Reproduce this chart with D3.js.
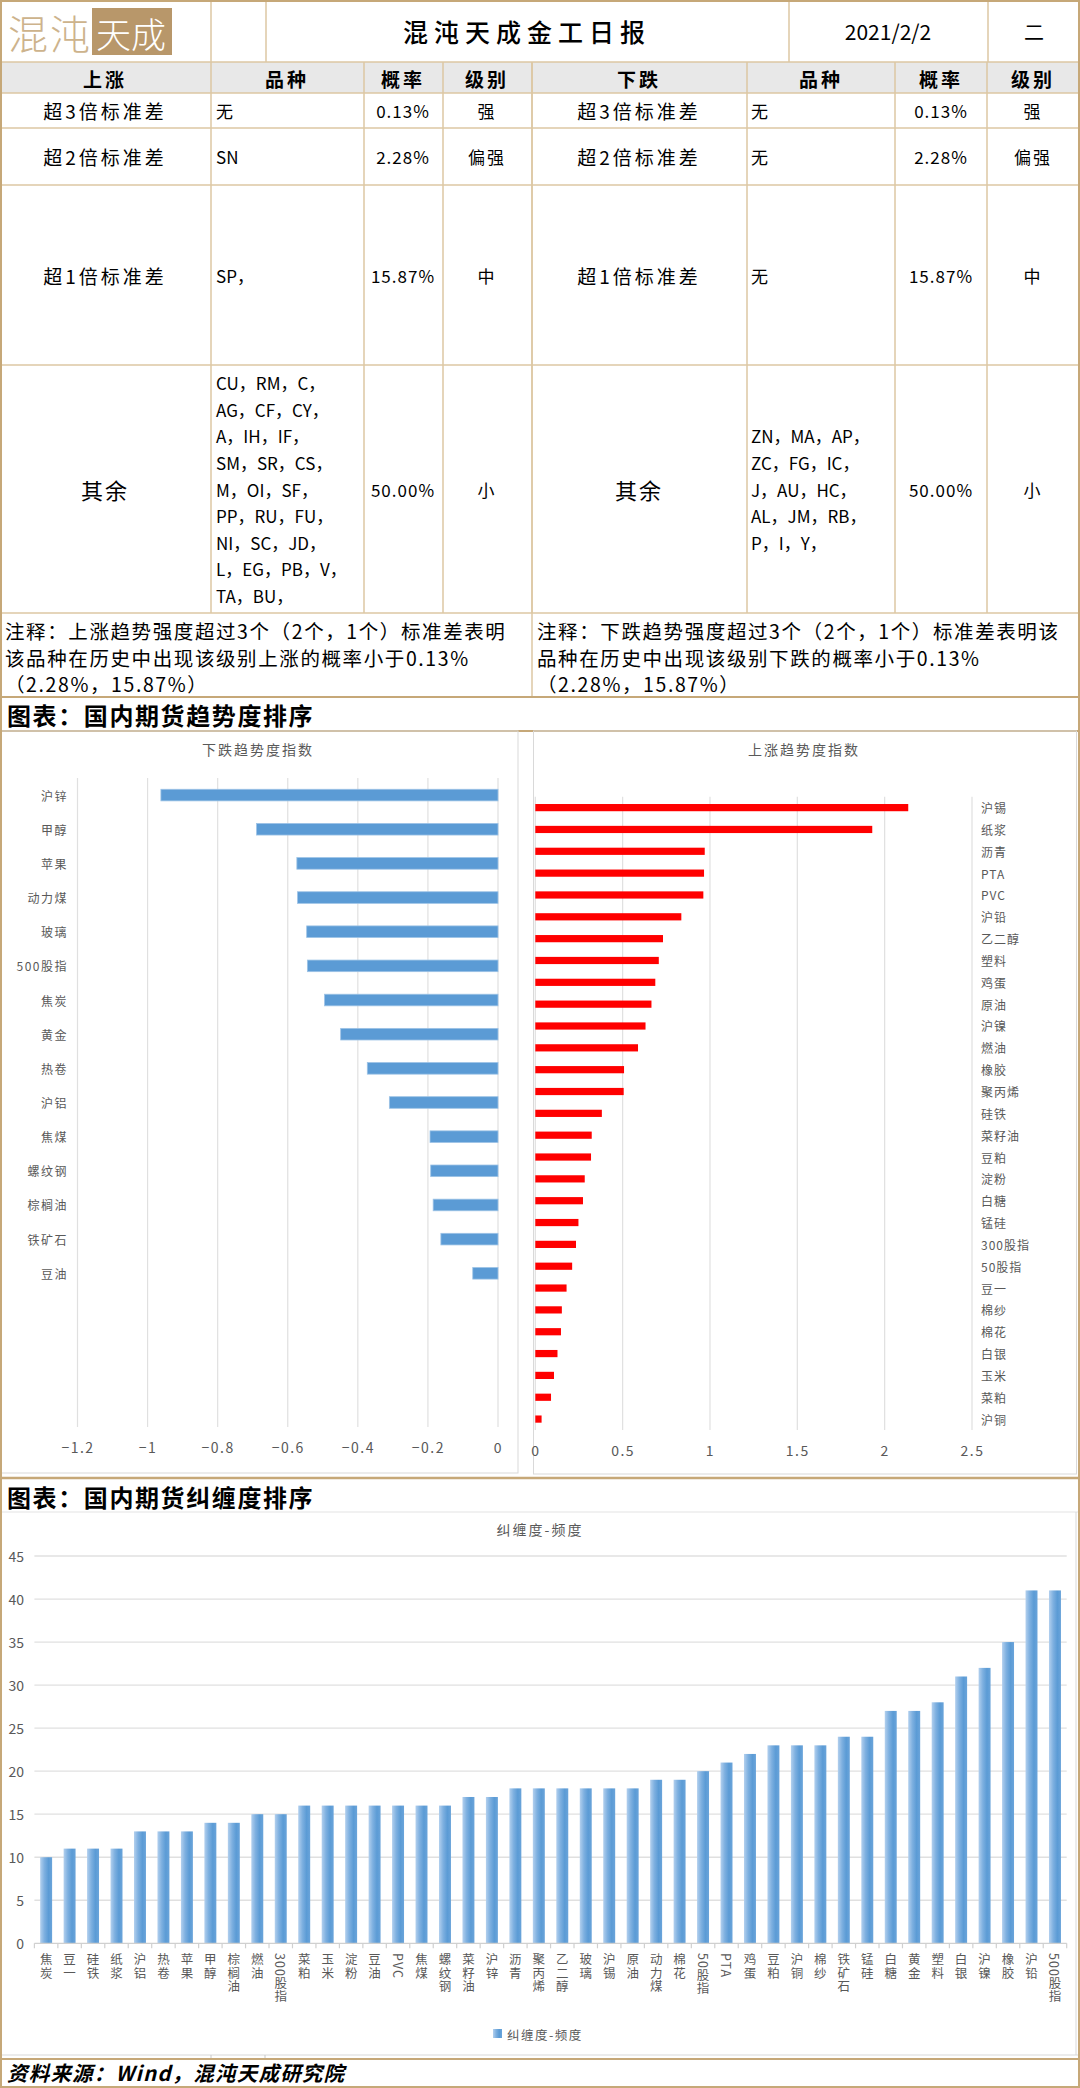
<!DOCTYPE html>
<html><head><meta charset="utf-8">
<script src="https://cdn.jsdelivr.net/npm/d3@7"></script>
<style>
html,body{margin:0;padding:0;background:#fff;}
svg{display:block;}
text{font-family:"Noto Sans CJK SC","Noto Sans",sans-serif;}
</style></head><body>
<svg id="c" width="1080" height="2088"></svg>
<script>
// ---------------- data ----------------
const reportTitle = "混沌天成金工日报";
const reportDate = "2021/2/2";
const weekday = "二";
const headLeft = ["上涨","品种","概率","级别"];
const headRight = ["下跌","品种","概率","级别"];
const levelNames = ["超3倍标准差","超2倍标准差","超1倍标准差","其余"];
const upVarieties = [["无"],["SN"],["SP，"],["CU，RM，C，","AG，CF，CY，","A，IH，IF，","SM，SR，CS，","M，OI，SF，","PP，RU，FU，","NI，SC，JD，","L，EG，PB，V，","TA，BU，"]];
const downVarieties = [["无"],["无"],["无"],["ZN，MA，AP，","ZC，FG，IC，","J，AU，HC，","AL，JM，RB，","P，I，Y，"]];
const probs = ["0.13%","2.28%","15.87%","50.00%"];
const grades = ["强","偏强","中","小"];
const notesUp = ["注释：上涨趋势强度超过3个（2个，1个）标准差表明","该品种在历史中出现该级别上涨的概率小于0.13%","（2.28%，15.87%）"];
const notesDown = ["注释：下跌趋势强度超过3个（2个，1个）标准差表明该","品种在历史中出现该级别下跌的概率小于0.13%","（2.28%，15.87%）"];
const section1 = "图表：国内期货趋势度排序";
const section2 = "图表：国内期货纠缠度排序";
const sourceText = "资料来源：Wind，混沌天成研究院";

const downTitle = "下跌趋势度指数";
const downCats = ["沪锌","甲醇","苹果","动力煤","玻璃","500股指","焦炭","黄金","热卷","沪铝","焦煤","螺纹钢","棕榈油","铁矿石","豆油"];
const downVals = [-0.962,-0.689,-0.574,-0.572,-0.546,-0.544,-0.495,-0.449,-0.373,-0.310,-0.194,-0.192,-0.185,-0.163,-0.072];
const downSlots = 19;
const downTicks = [-1.2,-1,-0.8,-0.6,-0.4,-0.2,0];

const upTitle = "上涨趋势度指数";
const upCats = ["沪锡","纸浆","沥青","PTA","PVC","沪铅","乙二醇","塑料","鸡蛋","原油","沪镍","燃油","橡胶","聚丙烯","硅铁","菜籽油","豆粕","淀粉","白糖","锰硅","300股指","50股指","豆一","棉纱","棉花","白银","玉米","菜粕","沪铜"];
const upVals = [2.135,1.929,0.970,0.966,0.962,0.836,0.731,0.707,0.687,0.665,0.631,0.588,0.508,0.506,0.381,0.323,0.319,0.283,0.273,0.247,0.233,0.211,0.179,0.152,0.147,0.127,0.107,0.090,0.036];
const upTicks = [0,0.5,1,1.5,2,2.5];

const tangleTitle = "纠缠度-频度";
const tangleCats = ["焦炭","豆一","硅铁","纸浆","沪铝","热卷","苹果","甲醇","棕榈油","燃油","300股指","菜粕","玉米","淀粉","豆油","PVC","焦煤","螺纹钢","菜籽油","沪锌","沥青","聚丙烯","乙二醇","玻璃","沪锡","原油","动力煤","棉花","50股指","PTA","鸡蛋","豆粕","沪铜","棉纱","铁矿石","锰硅","白糖","黄金","塑料","白银","沪镍","橡胶","沪铅","500股指"];
const tangleVals = [10,11,11,11,13,13,13,14,14,15,15,16,16,16,16,16,16,16,17,17,18,18,18,18,18,18,19,19,20,21,22,23,23,23,24,24,27,27,28,31,32,35,41,41];
const tangleTicks = [0,5,10,15,20,25,30,35,40,45];

// ---------------- drawing ----------------
const W = 1080, H = 2088;
const GOLD = "#c6a878", TAN = "#dcc7a3", GRID = "#e0e0e0", AXC = "#595959";
const svg = d3.select("#c");
svg.append("rect").attr("width", W).attr("height", H).attr("fill", "#fff");

function t(x, y, s, o = {}) {
  return svg.append("text").attr("x", x).attr("y", y).text(s)
    .attr("font-size", o.size || 17)
    .attr("font-weight", o.weight || 400)
    .attr("fill", o.fill || "#000")
    .attr("text-anchor", o.anchor || "start")
    .attr("dominant-baseline", "central")
    .style("letter-spacing", (o.ls || 0) + "px")
    .style("font-style", o.italic ? "italic" : "normal");
}
function line(x1, y1, x2, y2, c, w) {
  svg.append("line").attr("x1", x1).attr("y1", y1).attr("x2", x2).attr("y2", y2)
    .attr("stroke", c).attr("stroke-width", w || 1);
}

// ----- header -----
const colL = [0, 211, 364, 443, 532];
const colR = [532, 747, 895, 987, 1080];
const rowY = [62, 93, 128, 185, 365, 613];

svg.append("rect").attr("x", 0).attr("y", 62).attr("width", W).attr("height", 31).attr("fill", "#e8e8e8");

// logo
t(8, 32, "混沌", {size: 40, fill: "#cdb38c", ls: 2, weight: 300});
svg.append("rect").attr("x", 92).attr("y", 8).attr("width", 80).attr("height", 47).attr("fill", "#b8976a");
t(96, 32, "天成", {size: 35, fill: "#fff", weight: 300});

[211, 266, 789, 988].forEach(x => line(x, 0, x, 62, TAN, 1.5));
t(527, 31, reportTitle, {size: 25, anchor: "middle", ls: 6, weight: 500});
t(888, 31, reportDate, {size: 21, anchor: "middle"});
t(1034, 31, weekday, {size: 20, anchor: "middle"});

// table grid
rowY.forEach(y => line(0, y, W, y, TAN, 1.5));
[...colL, ...colR].forEach(x => line(x, 62, x, 613, TAN, 1.5));
line(532, 613, 532, 697, TAN, 1.5);
line(0, 697, W, 697, GOLD, 2);
line(0, 731, W, 731, GOLD, 2);

const hdrCentersL = [105, 287, 403, 487];
const hdrCentersR = [639, 821, 941, 1033];
headLeft.forEach((s, i) => t(hdrCentersL[i], 78, s, {size: 19, weight: 700, anchor: "middle", ls: 3}));
headRight.forEach((s, i) => t(hdrCentersR[i], 78, s, {size: 19, weight: 700, anchor: "middle", ls: 3}));

const rowCenters = rowY.slice(1, 5).map((y, i) => (y + rowY[i + 2]) / 2);
levelNames.forEach((s, i) => {
  const big = i === 3;
  t(105, rowCenters[i], s, {size: big ? 22 : 19, anchor: "middle", ls: big ? 2 : 3});
  t(639, rowCenters[i], s, {size: big ? 22 : 19, anchor: "middle", ls: big ? 2 : 3});
  t(403, rowCenters[i], probs[i], {size: 17, anchor: "middle", ls: 1});
  t(941, rowCenters[i], probs[i], {size: 17, anchor: "middle", ls: 1});
  t(487, rowCenters[i], grades[i], {size: 17, anchor: "middle", ls: 2});
  t(1033, rowCenters[i], grades[i], {size: 17, anchor: "middle", ls: 2});
  const lh = 26.6;
  upVarieties[i].forEach((v, j) => t(216, rowCenters[i] + (j - (upVarieties[i].length - 1) / 2) * lh, v, {size: 17}));
  downVarieties[i].forEach((v, j) => t(751, rowCenters[i] + (j - (downVarieties[i].length - 1) / 2) * lh, v, {size: 17}));
});

const noteY = [630, 657, 683];
notesUp.forEach((s, i) => t(5, noteY[i], s, {size: 19.5, ls: 1.6}));
notesDown.forEach((s, i) => t(537, noteY[i], s, {size: 19.5, ls: 1.6}));

t(7, 714, section1, {size: 24, weight: 700, ls: 1.6});

// ----- chart 1 frames -----
svg.append("rect").attr("x", 1.5).attr("y", 731).attr("width", 516.5).attr("height", 742).attr("fill", "none").attr("stroke", "#d9d9d9");
svg.append("rect").attr("x", 533.5).attr("y", 731).attr("width", 543).attr("height", 743).attr("fill", "none").attr("stroke", "#d9d9d9");

// down chart
const xd = d3.scaleLinear().domain([-1.2, 0]).range([77.5, 498]);
const yd = d3.scaleBand().domain(d3.range(downSlots)).range([778, 1427]).paddingInner(0.66).paddingOuter(0.33);
t(258, 749, downTitle, {size: 14, anchor: "middle", fill: AXC, ls: 2});
downTicks.forEach(v => line(xd(v), 778, xd(v), 1427, GRID, 1.2));
svg.append("g").selectAll("rect").data(downVals).join("rect")
  .attr("x", d => xd(d)).attr("width", d => xd(0) - xd(d))
  .attr("y", (d, i) => yd(i)).attr("height", yd.bandwidth())
  .attr("fill", "#5b9bd5").attr("stroke", "#9dc3e6").attr("stroke-width", 0.8);
downCats.forEach((c, i) => t(68, yd(i) + yd.bandwidth() / 2, c, {size: 12, anchor: "end", fill: AXC, ls: 1.5}));
const axD = svg.append("g").attr("transform", "translate(0,1427)")
  .call(d3.axisBottom(xd).tickValues(downTicks).tickSize(0).tickPadding(16).tickFormat(d3.format("~g")));
axD.select(".domain").remove();
axD.selectAll("text").attr("font-size", 14).attr("fill", AXC).style("letter-spacing", "1.5px")
  .attr("font-family", '"Noto Sans CJK SC",sans-serif');

// up chart
const xu = d3.scaleLinear().domain([0, 2.5]).range([535.3, 972]);
const yu = d3.scaleBand().domain(d3.range(upCats.length)).range([796.7, 1430]).paddingInner(0.67).paddingOuter(0.335);
t(804, 749, upTitle, {size: 14, anchor: "middle", fill: AXC, ls: 2});
upTicks.forEach(v => line(xu(v), 796.7, xu(v), 1430, GRID, 1.2));
svg.append("g").selectAll("rect").data(upVals).join("rect")
  .attr("x", xu(0)).attr("width", d => xu(d) - xu(0))
  .attr("y", (d, i) => yu(i)).attr("height", yu.bandwidth())
  .attr("fill", "#ff0000");
upCats.forEach((c, i) => t(981, yu(i) + yu.bandwidth() / 2, c, {size: 12, fill: AXC, ls: 1}));
const axU = svg.append("g").attr("transform", "translate(0,1430)")
  .call(d3.axisBottom(xu).tickValues(upTicks).tickSize(0).tickPadding(16).tickFormat(d3.format("~g")));
axU.select(".domain").remove();
axU.selectAll("text").attr("font-size", 14).attr("fill", AXC).style("letter-spacing", "1.5px")
  .attr("font-family", '"Noto Sans CJK SC",sans-serif');

// ----- section 2 -----
line(0, 1478, W, 1478, GOLD, 2.5);
t(7, 1496, section2, {size: 24, weight: 700, ls: 1.6});
line(0, 1512, W, 1512, "#e3e3e3", 1.2);
line(1.5, 1512, 1.5, 2055, "#bbbbbb", 1);
line(1076, 1512, 1076, 2055, "#d9d9d9", 1);
line(0, 2055, W, 2055, "#d9d9d9", 1);

const defs = svg.append("defs");
const gr = defs.append("linearGradient").attr("id", "bg").attr("x1", 0).attr("x2", 1).attr("y1", 0).attr("y2", 0);
gr.append("stop").attr("offset", "0%").attr("stop-color", "#b3d0ee");
gr.append("stop").attr("offset", "35%").attr("stop-color", "#7eb0e0");
gr.append("stop").attr("offset", "70%").attr("stop-color", "#5b9bd5");
gr.append("stop").attr("offset", "100%").attr("stop-color", "#6aa4da");

const xt = d3.scaleBand().domain(tangleCats).range([34.4, 1066.7]).paddingInner(0.49).paddingOuter(0.245);
const yt = d3.scaleLinear().domain([0, 45]).range([1943.3, 1556]);
t(540, 1529, tangleTitle, {size: 14, anchor: "middle", fill: AXC, ls: 2});
tangleTicks.forEach(v => {
  if (v > 0) line(34.4, yt(v), 1066.7, yt(v), GRID, 1.3);
  t(24, yt(v), String(v), {size: 14, anchor: "end", fill: AXC});
});
svg.append("g").selectAll("rect").data(tangleVals).join("rect")
  .attr("x", (d, i) => xt(tangleCats[i])).attr("width", xt.bandwidth())
  .attr("y", d => yt(d)).attr("height", d => yt(0) - yt(d))
  .attr("fill", "url(#bg)");
line(34.4, yt(0), 1066.7, yt(0), "#d0d0d0", 1.3);
const step = xt.step();
d3.range(tangleCats.length + 1).forEach(i => {
  const x = 34.4 + i * step;
  line(x, yt(0), x, yt(0) + 5, "#d0d0d0", 1.2);
});
// vertical category labels (one text element each)
tangleCats.forEach(c => {
  svg.append("text").attr("x", xt(c) + xt.bandwidth() / 2).attr("y", 1953).text(c)
    .attr("font-size", 12.5).attr("fill", AXC)
    .style("writing-mode", "vertical-rl").style("text-orientation", "mixed")
    .style("letter-spacing", "1px");
});

// legend
svg.append("rect").attr("x", 493).attr("y", 2029).attr("width", 9).attr("height", 9).attr("fill", "url(#bg)");
t(507, 2034, tangleTitle, {size: 12.5, fill: AXC, ls: 1.5});

// ----- source -----
[211, 265].forEach(x => line(x, 2055, x, 2059, "#c8c8c8", 1));
line(0, 2059, W, 2059, GOLD, 2);
t(7, 2072, sourceText, {size: 20.5, weight: 700, italic: true, ls: 1.2});

// outer frame
svg.append("rect").attr("x", 1).attr("y", 1).attr("width", W - 2).attr("height", H - 2)
  .attr("fill", "none").attr("stroke", GOLD).attr("stroke-width", 2);
</script>
</body></html>
